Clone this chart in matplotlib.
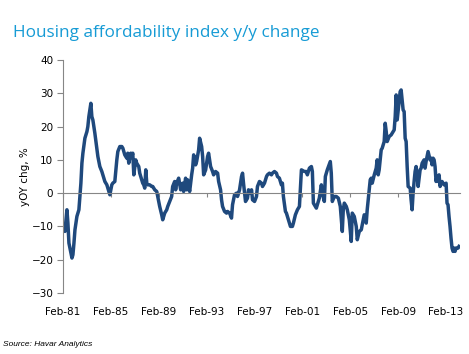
import matplotlib
matplotlib.use("Agg")
import matplotlib.pyplot as plt
import matplotlib.dates as mdates
import numpy as np

# monthly series, x given as months after Feb-1981
month_idx = [0, 2, 4, 5, 6, 8, 9, 10, 11, 12, 14, 15, 16, 17, 18, 19, 20, 22, 24, 25,
             26, 28, 29, 30, 32, 34, 35, 37, 39, 40, 42, 44, 45, 47, 49, 50, 52, 54, 55, 57,
             59, 60, 62, 64, 65, 66, 68, 69, 70, 71, 73, 74, 76, 77, 80, 81, 82, 83, 84, 85,
             87, 89, 90, 92, 94, 95, 97, 99, 100, 102, 104, 105, 107, 109, 110, 112, 113, 114, 116, 118,
             120, 121, 123, 124, 125, 127, 129, 130, 131, 133, 134, 136, 137, 139, 140, 141, 143, 145, 146, 148,
             150, 151, 153, 155, 156, 158, 159, 160, 162, 164, 165, 167, 169, 170, 172, 174, 175, 177, 179, 180,
             181, 183, 185, 186, 188, 189, 190, 192, 194, 195, 197, 199, 200, 202, 204, 205, 207, 209, 210, 212,
             214, 215, 217, 219, 220, 221, 223, 224, 226, 228, 230, 231, 233, 235, 237, 239, 242, 244, 245, 247,
             249, 250, 251, 253, 254, 256, 257, 259, 260, 262, 263, 265, 268, 269, 270, 272, 274, 276, 278, 280,
             281, 282, 284, 285, 287, 289, 290, 292, 294, 295, 297, 299, 300, 302, 304, 305, 307, 308, 309, 310,
             312, 314, 315, 316, 317, 319, 320, 322, 323, 324, 325, 327, 329, 330, 332, 333, 334, 335, 336, 337,
             338, 339, 340, 341, 342, 343, 344, 345, 346, 348, 349, 350, 351, 352, 353, 354, 355, 356, 358, 359,
             360, 362, 363, 364, 365, 366, 368, 369, 370, 371, 372, 373, 374, 375, 376, 377, 378, 379, 380, 382,
             384, 385, 386, 387, 388, 389, 390, 391, 392, 393, 394, 396, 397]
yoy_chg = [-11, -11.5, -5, -9, -15, -18, -19.5, -18.5, -15, -11, -7, -6, -5, -1, 3, 9, 12, 16.5, 18.5, 20,
           23, 27, 23, 22, 18, 13.5, 11, 8, 6.5, 5.5, 3.5, 2.5, 1.5, -0.5, 2.5, 3, 3.5, 10, 12.5, 14,
           14, 13.5, 11.5, 10.5, 12, 9, 12, 11, 12, 5.5, 10, 9, 8, 6, 3, 2.5, 1.5, 7, 3, 2.5,
           2.5, 2, 2, 1, 0.5, -1, -4, -6.5, -8, -6, -5, -4, -2.5, -1, 2, 3.5, 1, 3, 4.5, 1,
           3, 0.5, 4.5, 1, 4, 0.5, 5.5, 7.5, 11.5, 8.5, 9.5, 13, 16.5, 14, 11, 5.5, 7, 11, 12, 8,
           6.5, 5.5, 6.5, 6, 3.5, 1, -2, -4, -5.5, -6, -5.5, -6, -7.5, -3.5, -0.5, 0, -1, 1, 5, 6,
           3, -2.5, -1.5, 1, 0, 1, -2, -2.5, -1, 2, 3.5, 3, 2, 3, 5, 5.5, 6, 5.5, 6, 6.5,
           6, 5, 4.5, 2.5, 3, -1, -5.5, -6, -8, -10, -10, -9, -6.5, -5, -4, 7, 6.5, 6.5, 5.5, 7.5,
           8, 6.5, -3, -4, -4.5, -2.5, -1.5, 2.5, 0, -2.5, 5, 7, 9.5, 6, -2.5, -1, -1, -1.5, -4, -11.5,
           -5, -3, -4, -5, -8, -14.5, -6, -7, -10, -14, -11.5, -11, -9.5, -6.5, -9, -5, 1, 4, 4.5, 3,
           5.5, 7.5, 10, 5.5, 7, 13, 13.5, 15.5, 21, 18.5, 15.5, 17, 17.5, 18, 19, 23, 29.5, 22, 25, 28,
           30.5, 31, 28, 25, 24.5, 16.5, 15.5, 8, 2, 1.5, -2, -5, 0, 3.5, 6.5, 8, 5.5, 2, 7, 7.5,
           9, 10, 7.5, 9.5, 11, 12.5, 10, 10.5, 8.5, 10.5, 10, 8, 3.5, 5, 3.5, 5.5, 2, 3, 3.5, 2.5,
           3, -3, -3.5, -7, -10, -13.5, -16.5, -17.5, -16.5, -17.5, -16.5, -16.5, -16]

tick_years = [1981, 1985, 1989, 1993, 1997, 2001, 2005, 2009, 2013]

start = np.datetime64("1981-02", "M")
dates = (start + np.array(month_idx)).astype("datetime64[D]")
tick_dates = np.array([np.datetime64(f"{y}-02", "M") for y in tick_years]).astype("datetime64[D]")

line_col = "#1F497D"
axis_col = "#868686"

fig = plt.figure(figsize=(4.69, 3.54), dpi=100)
ax = fig.add_axes([63/469, 61/354, 397/469, 233/354])

ax.plot(dates, yoy_chg, color=line_col, lw=2.5, solid_joinstyle="round")

ax.set_ylim(-30, 40)
ax.set_yticks(range(-30, 41, 10))
ax.set_xlim(start.astype("datetime64[D]"), (start + 398).astype("datetime64[D]"))

# x axis line sits on zero, labels stay at the bottom
for s in ["top", "right"]:
    ax.spines[s].set_visible(False)
ax.spines["left"].set_color(axis_col)
ax.spines["bottom"].set_position(("data", 0))
ax.spines["bottom"].set_color(axis_col)
ax.set_xticks(tick_dates)
ax.tick_params(axis="x", direction="out", length=3, color=axis_col, labelbottom=False)
ax.tick_params(axis="y", direction="out", length=4, color=axis_col, labelsize=7.5, pad=3)

sec = ax.secondary_xaxis("bottom")
sec.set_xticks(tick_dates)
sec.xaxis.set_major_formatter(mdates.DateFormatter("%b-%y"))
sec.spines["bottom"].set_visible(False)
sec.tick_params(length=0, labelsize=7.5, pad=10)

ax.set_ylabel("yOY chg, %", fontsize=7.5, labelpad=1)

fig.text(13/469, 1 - 37/354, "Housing affordability index y/y change",
         fontsize=12.3, color="#169BD5", family="Open Sans")
fig.text(3/469, 1 - 346/354, "Source: Havar Analytics", fontsize=6,
         style="italic", family="Liberation Sans")

fig.savefig("out.png", dpi=100)
